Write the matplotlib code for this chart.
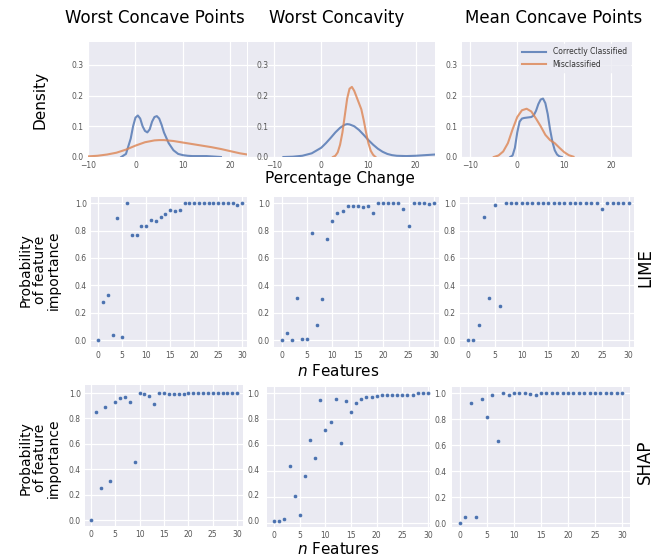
import numpy as np
import matplotlib
matplotlib.use("Agg")
import matplotlib.pyplot as plt

# ---------------- data ----------------
titles = ["Worst Concave Points", "Worst Concavity", "Mean Concave Points"]
legend_labels = ["Correctly Classified", "Misclassified"]

# density curves (percentage change, density)
kde1_correct_x = [-3, -2, -1, -0.5, 0, 0.5, 1, 1.5, 2, 2.5, 3, 3.5, 4, 4.5, 5, 5.5, 6, 7, 8, 9, 10, 11, 12, 13, 14, 15, 16, 17, 18]
kde1_correct_y = [0.0, 0.01, 0.06, 0.10, 0.128, 0.135, 0.125, 0.10, 0.085, 0.08, 0.09, 0.115, 0.13, 0.133, 0.125, 0.105, 0.08, 0.045, 0.022, 0.01, 0.006, 0.004, 0.003, 0.003, 0.003, 0.003, 0.002, 0.001, 0.0]
kde1_mis_x = [-11, -8, -6, -4, -2, 0, 2, 4, 5, 6, 8, 10, 12, 14, 16, 18, 20, 22, 24]
kde1_mis_y = [0.001, 0.004, 0.008, 0.014, 0.024, 0.037, 0.048, 0.054, 0.055, 0.055, 0.052, 0.047, 0.042, 0.037, 0.032, 0.026, 0.019, 0.012, 0.007]

kde2_correct_x = [-8, -6, -4, -2, 0, 1, 2, 3, 4, 5, 5.5, 6, 7, 8, 9, 10, 11, 12, 13, 14, 15, 16, 18, 20, 22, 24]
kde2_correct_y = [0.0, 0.001, 0.004, 0.012, 0.03, 0.045, 0.062, 0.08, 0.095, 0.105, 0.107, 0.106, 0.1, 0.088, 0.072, 0.055, 0.04, 0.027, 0.017, 0.01, 0.006, 0.004, 0.003, 0.004, 0.006, 0.008]
kde2_mis_x = [2.5, 3, 3.5, 4, 4.5, 5, 5.5, 6, 6.5, 7, 7.5, 8, 8.5, 9, 9.5, 10, 10.5, 11, 11.5]
kde2_mis_y = [0.0, 0.004, 0.015, 0.04, 0.08, 0.135, 0.19, 0.222, 0.228, 0.215, 0.195, 0.175, 0.155, 0.12, 0.08, 0.045, 0.02, 0.007, 0.0]

kde3_correct_x = [-1.5, -1, -0.5, 0, 0.5, 1, 1.5, 2, 3, 3.5, 4, 4.5, 5, 5.5, 6, 6.5, 7, 7.5, 8, 8.5, 9, 9.5]
kde3_correct_y = [0.0, 0.005, 0.03, 0.08, 0.115, 0.125, 0.127, 0.128, 0.13, 0.135, 0.15, 0.172, 0.187, 0.19, 0.175, 0.14, 0.09, 0.05, 0.022, 0.008, 0.002, 0.0]
kde3_mis_x = [-5, -4, -3, -2, -1, 0, 1, 2, 3, 4, 5, 6, 7, 8, 9, 10, 11, 12]
kde3_mis_y = [0.0, 0.005, 0.018, 0.045, 0.09, 0.13, 0.152, 0.157, 0.148, 0.125, 0.1, 0.072, 0.055, 0.045, 0.03, 0.016, 0.006, 0.001]

n_features = list(range(31))

lime_worst_concave_points = [0.0, 0.28, 0.33, 0.04, 0.89, 0.02, 1.0, 0.77, 0.77, 0.83, 0.83, 0.88, 0.87, 0.90, 0.92, 0.95, 0.94, 0.95, 1.0, 1.0, 1.0, 1.0, 1.0, 1.0, 1.0, 1.0, 1.0, 1.0, 1.0, 0.99, 1.0]
lime_worst_concavity = [0.0, 0.05, 0.0, 0.31, 0.01, 0.005, 0.78, 0.11, 0.30, 0.74, 0.87, 0.93, 0.94, 0.98, 0.98, 0.98, 0.97, 0.98, 0.93, 1.0, 1.0, 1.0, 1.0, 1.0, 0.96, 0.83, 1.0, 1.0, 1.0, 0.995, 1.0]
lime_mean_concave_points = [0.0, 0.0, 0.11, 0.90, 0.31, 0.99, 0.25, 1.0, 1.0, 1.0, 1.0, 1.0, 1.0, 1.0, 1.0, 1.0, 1.0, 1.0, 1.0, 1.0, 1.0, 1.0, 1.0, 1.0, 1.0, 0.96, 1.0, 1.0, 1.0, 1.0, 1.0]

shap_worst_concave_points = [0.0, 0.85, 0.25, 0.89, 0.31, 0.93, 0.96, 0.97, 0.93, 0.46, 1.0, 0.99, 0.98, 0.91, 1.0, 1.0, 0.99, 0.99, 0.99, 0.995, 1.0, 1.0, 1.0, 1.0, 1.0, 1.0, 1.0, 1.0, 1.0, 1.0, 1.0]
shap_worst_concavity = [0.02, 0.02, 0.03, 0.44, 0.21, 0.06, 0.36, 0.64, 0.50, 0.95, 0.72, 0.78, 0.96, 0.62, 0.94, 0.86, 0.93, 0.96, 0.97, 0.97, 0.98, 0.985, 0.985, 0.99, 0.99, 0.99, 0.99, 0.99, 1.0, 1.0, 1.0]
shap_mean_concave_points = [0.0, 0.05, 0.93, 0.05, 0.96, 0.82, 0.99, 0.63, 1.0, 0.99, 1.0, 1.0, 1.0, 0.995, 0.99, 1.0, 1.0, 1.0, 1.0, 1.0, 1.0, 1.0, 1.0, 1.0, 1.0, 1.0, 1.0, 1.0, 1.0, 1.0, 1.0]

# ---------------- style ----------------
BG = "#eaeaf2"
BLUE = "#4c72b0"
ORANGE = "#dd8452"
TICKC = "#555555"
W, H = 654, 558

fig = plt.figure(figsize=(W / 100, H / 100), dpi=100)


def add_ax(x0, y0, x1, y1):
    ax = fig.add_axes([x0 / W, 1 - y1 / H, (x1 - x0) / W, (y1 - y0) / H])
    ax.set_facecolor(BG)
    for s in ax.spines.values():
        s.set_visible(False)
    ax.grid(True, color="white", lw=0.9)
    ax.set_axisbelow(True)
    ax.tick_params(length=0, labelsize=5.5, labelcolor=TICKC, pad=3)
    return ax


# ---------------- top row: densities ----------------
top_boxes = [(88, 42, 247, 157), (248, 42, 435, 157), (462, 42, 632, 157)]
top_xlims = [(-10, 23.5), (-15.5, 24.1), (-11.8, 24.5)]
kdes = [
    (kde1_correct_x, kde1_correct_y, kde1_mis_x, kde1_mis_y),
    (kde2_correct_x, kde2_correct_y, kde2_mis_x, kde2_mis_y),
    (kde3_correct_x, kde3_correct_y, kde3_mis_x, kde3_mis_y),
]
top_axes = []
for i, (box, xl, k) in enumerate(zip(top_boxes, top_xlims, kdes)):
    ax = add_ax(*box)
    ax.plot(k[0], k[1], color=BLUE, lw=1.5, alpha=0.8, label=legend_labels[0])
    ax.plot(k[2], k[3], color=ORANGE, lw=1.5, alpha=0.8, label=legend_labels[1])
    ax.set_xlim(*xl)
    ax.set_ylim(0, 0.374)
    ax.set_xticks([-10, 0, 10, 20])
    ax.set_yticks([0.0, 0.1, 0.2, 0.3])
    ax.set_yticklabels(["0.0", "0.1", "0.2", "0.3"])
    if i == 1:
        ax.tick_params(axis="y", pad=-15)
    top_axes.append(ax)

leg = top_axes[2].legend(loc="upper right", fontsize=5.5, frameon=True,
                         facecolor=BG, edgecolor=BG, handlelength=3.2,
                         borderaxespad=0.3, labelcolor="#333333")

# titles
fig.text(155 / W, 1 - 18 / H, titles[0], ha="center", va="center", fontsize=12)
fig.text(337 / W, 1 - 18 / H, titles[1], ha="center", va="center", fontsize=12)
fig.text(554 / W, 1 - 18 / H, titles[2], ha="center", va="center", fontsize=12)

fig.text(40 / W, 1 - 100 / H, "Density", rotation=90, ha="center", va="center", fontsize=11)
fig.text(340 / W, 1 - 178 / H, "Percentage Change", ha="center", va="center", fontsize=11)

# ---------------- middle row: LIME ----------------
mid_boxes = [(91, 197, 247, 347), (274, 197, 439, 347), (460, 197, 634, 347)]
mid_data = [lime_worst_concave_points, lime_worst_concavity, lime_mean_concave_points]
for box, d in zip(mid_boxes, mid_data):
    ax = add_ax(*box)
    ax.scatter(n_features, d, s=9, color=BLUE, edgecolor="white", linewidth=0.3, zorder=3)
    ax.set_xlim(-1.5, 31)
    ax.set_ylim(-0.05, 1.045)
    ax.set_xticks([0, 5, 10, 15, 20, 25, 30])
    ax.set_yticks([0.0, 0.2, 0.4, 0.6, 0.8, 1.0])

# ---------------- bottom row: SHAP ----------------
bot_boxes = [(85, 385, 243, 526), (267, 387, 430, 527), (452, 387, 630, 527)]
bot_xlims = [(-1.2, 31.2), (-1.4, 30.4), (-1.5, 31.5)]
bot_ylims = [(-0.047, 1.063), (-0.03, 1.05), (-0.03, 1.05)]
bot_data = [shap_worst_concave_points, shap_worst_concavity, shap_mean_concave_points]
for i, (box, xl, yl, d) in enumerate(zip(bot_boxes, bot_xlims, bot_ylims, bot_data)):
    ax = add_ax(*box)
    ax.scatter(n_features, d, s=9, color=BLUE, edgecolor="white", linewidth=0.3, zorder=3)
    ax.set_xlim(*xl)
    ax.set_ylim(*yl)
    ax.set_xticks([0, 5, 10, 15, 20, 25, 30])
    ax.set_yticks([0.0, 0.2, 0.4, 0.6, 0.8, 1.0])
    if i == 0:
        ax.tick_params(labelleft=True, labelright=True)
    elif i == 1:
        ax.tick_params(labelleft=False, labelright=True)
    else:
        ax.tick_params(labelleft=False, labelright=False)

# row labels
for yc in (270, 458):
    fig.text(40 / W, 1 - yc / H, "Probability\nof feature\nimportance", rotation=90,
             ha="center", va="center", fontsize=10, linespacing=1.0)
fig.text(338 / W, 1 - 371 / H, r"$n$ Features", ha="center", va="center", fontsize=11)
fig.text(338 / W, 1 - 549 / H, r"$n$ Features", ha="center", va="center", fontsize=11)
fig.text(645 / W, 1 - 268 / H, "LIME", rotation=90, ha="center", va="center", fontsize=12)
fig.text(645 / W, 1 - 462 / H, "SHAP", rotation=90, ha="center", va="center", fontsize=12)

fig.savefig("out.png", dpi=100)
